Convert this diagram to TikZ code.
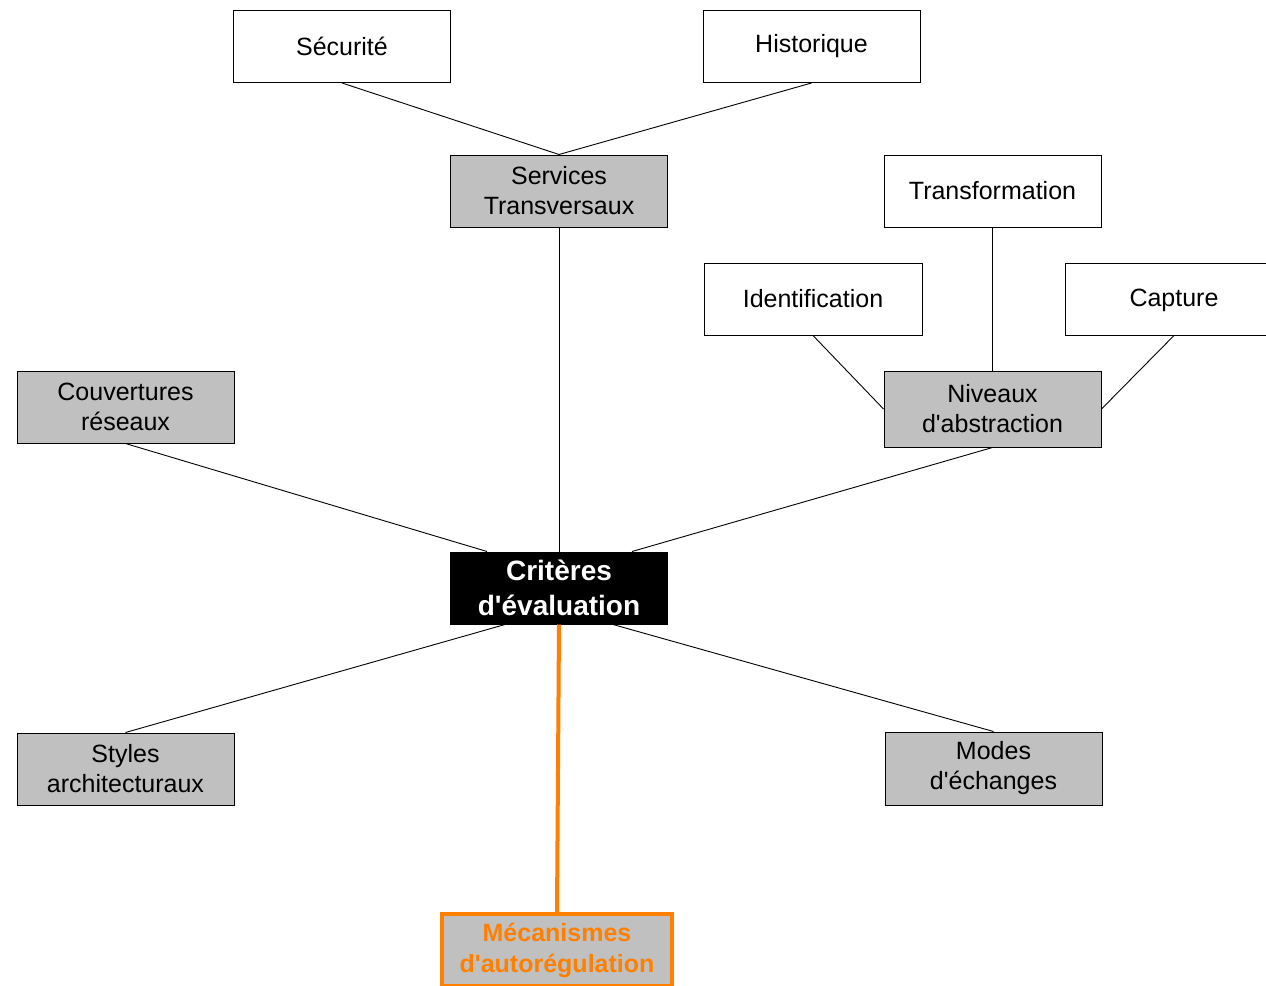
\documentclass[tikz,border=0pt]{standalone}
\usepackage{fontspec}
\setmainfont{Liberation Sans}
\usetikzlibrary{positioning}
\definecolor{cgray}{HTML}{C0C0C0}
\definecolor{corange}{HTML}{FF8000}
\newcommand{\q}{\textquotesingle}
\tikzset{
  every picture/.style={line width=1pt},
  box/.style={draw=black, fill=#1, align=center, minimum width=217pt, minimum height=72pt, inner sep=2pt, font=\fontsize{25}{30}\selectfont},
  box/.default=white,
  link/.style={draw=black, line width=0.9pt},
}
\begin{document}
\begin{tikzpicture}[x=1pt, y=-1pt,
  root/.style={box=black, text=white, font=\fontsize{28}{35}\selectfont\bfseries},
  focus/.style={box=cgray, draw=corange, line width=4pt, minimum width=230pt, text=corange, font=\fontsize{25}{31}\selectfont\bfseries}]
  \clip (0,0) rectangle (1266,985);
  \useasboundingbox (0,0) rectangle (1266,985);
  % central node
  \node[root] (crit) at (559,588) {Critères\\d\q évaluation};
  % branches
  \node[box=cgray] (serv) at (559,191) {Services\\Transversaux};
  \node[box] (secu) at (342,46.5) {Sécurité};
  \node[box] (histo) at (811.5,46.5) {Historique};
  \node[box=cgray] (couv) at (125.5,407) {Couvertures\\réseaux};
  \node[box=cgray, minimum height=76pt] (niv) at (992.5,409) {Niveaux\\d\q abstraction};
  \node[box] (transf) at (992.5,191) {Transformation};
  \node[box, minimum width=218pt] (ident) at (813,299) {Identification};
  \node[box, minimum width=218pt, text depth=2pt] (capt) at (1174,299) {Capture};
  \node[box=cgray] (styl) at (125.5,769) {Styles\\architecturaux};
  \node[box=cgray, minimum height=73pt] (modes) at (993.5,768.5) {Modes\\d\q échanges};
  \node[focus] (meca) at (557,950) {Mécanismes\\d\q autorégulation};
  % connectors
  \draw[link] (secu.south) -- (serv.north);
  \draw[link] (histo.south) -- (serv.north);
  \draw[link] (serv.south) -- (crit.north);
  \draw[link] (couv.south) -- ([xshift=-72pt]crit.north);
  \draw[link] (niv.south) -- ([xshift=73pt]crit.north);
  \draw[link] (transf.south) -- (niv.north);
  \draw[link] (ident.south) -- (niv.west);
  \draw[link] (capt.south) -- (niv.east);
  \draw[link] ([xshift=-54pt]crit.south) -- (styl.north);
  \draw[link] ([xshift=54pt]crit.south) -- (modes.north);
  \draw[draw=corange, line width=4pt] (crit.south) -- (meca.north);
\end{tikzpicture}
\end{document}
